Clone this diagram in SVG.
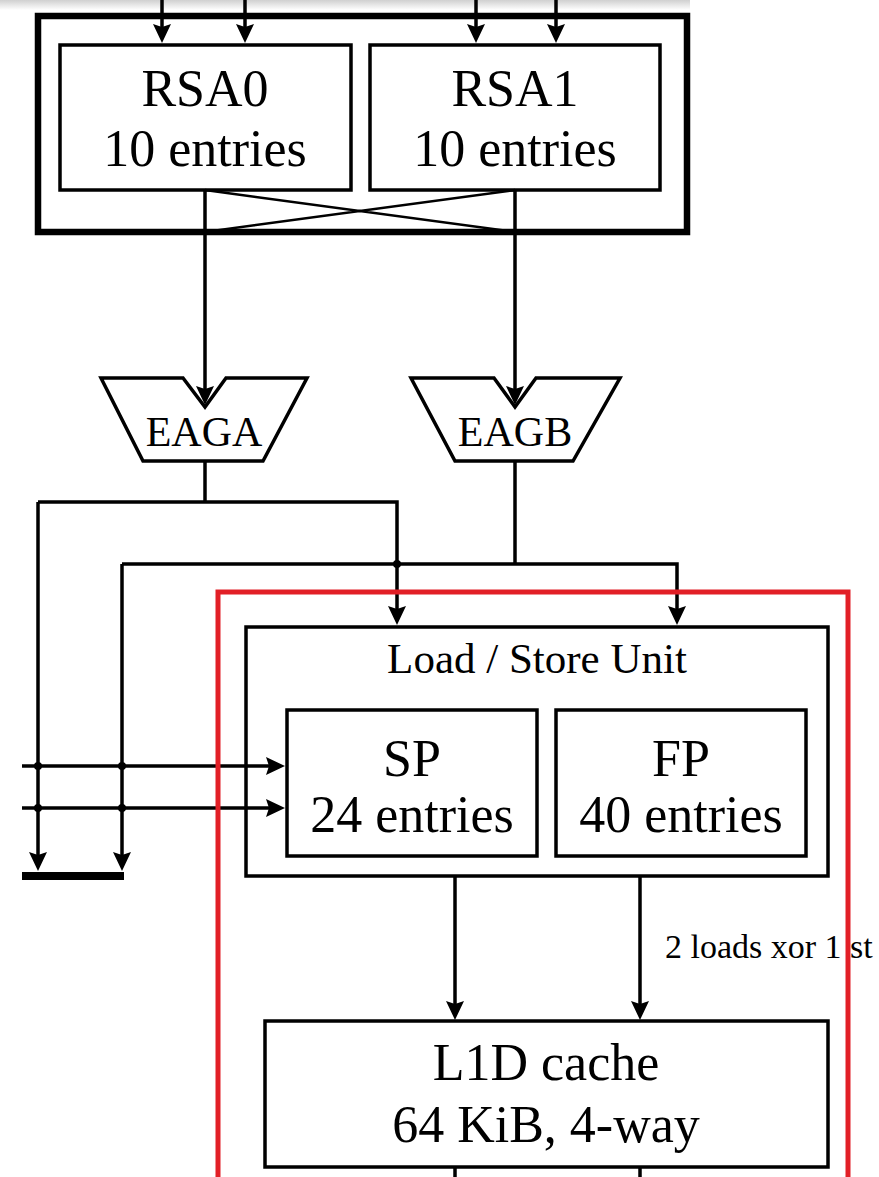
<svg xmlns="http://www.w3.org/2000/svg" width="879" height="1177" viewBox="0 0 879 1177">
<style>
.box{fill:#fff;stroke:#000;stroke-width:3.5}
.outer{fill:none;stroke:#000;stroke-width:6.5}
.wire{fill:none;stroke:#000;stroke-width:3.5}
.arr{marker-end:url(#ah)}
.t{fill:#000;text-anchor:middle}
.red{fill:none;stroke:#e21f26;stroke-width:5}
</style>
<defs>
<marker id="ah" viewBox="0 0 19 18" markerWidth="19" markerHeight="18" refX="10" refY="9" orient="auto" markerUnits="userSpaceOnUse">
<path d="M0,0 L19,9 L0,18 L3,9 z" fill="#000"/>
</marker>
<linearGradient id="shade" x1="0" y1="0" x2="0" y2="1">
<stop offset="0" stop-color="#d0d0d0"/>
<stop offset="1" stop-color="#ffffff"/>
</linearGradient>
</defs>
<rect x="0" y="0" width="879" height="1177" fill="#fff"/>
<rect x="0" y="0" width="690" height="10" fill="url(#shade)"/>

<g font-family="Liberation Serif, Times New Roman, serif">
<g id="rs-group">
<rect class="outer" x="38" y="16" width="649" height="216"/>
</g>
<g id="rsa0">
<rect class="box" x="60" y="45" width="291" height="145"/>
<text class="t" x="205" y="106" font-size="52">RSA0</text>
<text class="t" x="205" y="166" font-size="52">10 entries</text>
</g>
<g id="rsa1">
<rect class="box" x="370" y="45" width="290" height="145"/>
<text class="t" x="515" y="106" font-size="52">RSA1</text>
<text class="t" x="515" y="166" font-size="52">10 entries</text>
</g>
<g id="eaga">
<polygon class="box" points="101,378 183,378 205,407 226,378 307,378 263,461 143,461"/>
<text class="t" x="204" y="446" font-size="42">EAGA</text>
</g>
<g id="eagb">
<polygon class="box" points="411,378 494,378 515,407 536,378 620,378 573,461 455,461"/>
<text class="t" x="515" y="446" font-size="42">EAGB</text>
</g>
<g id="lsu">
<rect class="box" x="246" y="627" width="582" height="249"/>
<text class="t" x="537" y="673" font-size="43">Load / Store Unit</text>
</g>
<g id="sp">
<rect class="box" x="287" y="710" width="250" height="146"/>
<text class="t" x="412" y="776" font-size="52">SP</text>
<text class="t" x="412" y="832" font-size="52">24 entries</text>
</g>
<g id="fp">
<rect class="box" x="556" y="710" width="250" height="146"/>
<text class="t" x="681" y="776" font-size="52">FP</text>
<text class="t" x="681" y="832" font-size="52">40 entries</text>
</g>
<g id="l1d">
<rect class="box" x="265" y="1021" width="563" height="146"/>
<text class="t" x="546" y="1080" font-size="52">L1D cache</text>
<text class="t" x="546" y="1142" font-size="52">64 KiB, 4-way</text>
</g>

<g id="connectors">
<path class="wire arr" d="M162,0 V34"/>
<path class="wire arr" d="M245,0 V34"/>
<path class="wire arr" d="M476,0 V34"/>
<path class="wire arr" d="M556,0 V34"/>
<path class="wire" style="stroke-width:2.5" d="M205,190 L515,232 M515,190 L205,232"/>
<path class="wire arr" d="M205,190 V396"/>
<path class="wire arr" d="M515,190 V396"/>
<path class="wire" d="M205,461 V502"/>
<path class="wire arr" d="M38,502 H397 V616"/>
<path class="wire arr" d="M38,502 V862"/>
<path class="wire" d="M515,461 V564"/>
<path class="wire arr" d="M122,564 H677 V616"/>
<path class="wire arr" d="M122,564 V862"/>
<path class="wire arr" d="M22,766 H276"/>
<path class="wire arr" d="M22,808 H276"/>
<path class="wire" style="stroke-width:8" d="M22,876 H124"/>
<circle cx="397" cy="564" r="4"/>
<circle cx="38" cy="766" r="4"/>
<circle cx="122" cy="766" r="4"/>
<circle cx="38" cy="808" r="4"/>
<circle cx="122" cy="808" r="4"/>
<path class="wire arr" d="M455,876 V1011"/>
<path class="wire arr" d="M640,876 V1011"/>
<path class="wire" d="M455,1167 V1177 M640,1167 V1177"/>
<text x="665" y="958" font-size="34">2 loads xor 1 st</text>
</g>

<g id="highlight">
<rect class="red" x="218" y="592" width="630" height="620"/>
</g>
</g>
</svg>
